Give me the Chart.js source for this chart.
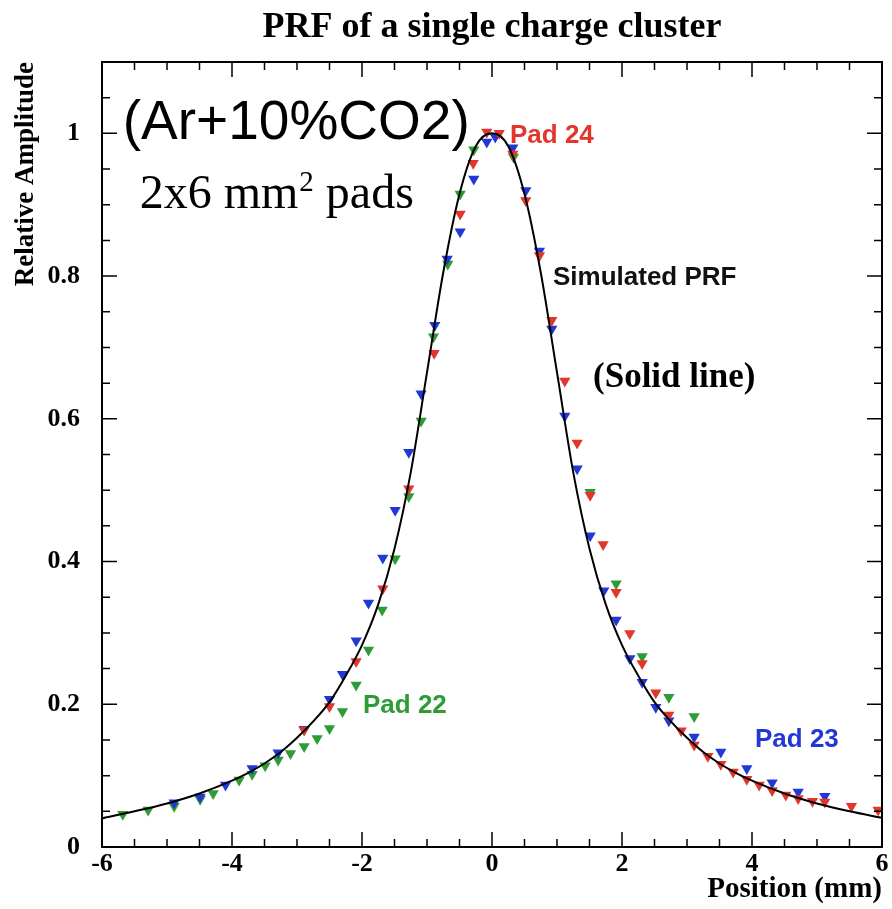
<!DOCTYPE html>
<html>
<head>
<meta charset="utf-8">
<script src="https://cdn.jsdelivr.net/npm/chart.js@4.4.1/dist/chart.umd.min.js"></script>
<style>
body { margin: 0; background: #fff; }
</style>
</head>
<body>
<canvas id="chart" width="892" height="909"></canvas>
<script>
// simulated PRF (solid line)
const curveX = [-6, -5.5, -5, -4.5, -4, -3.75, -3.5, -3.25, -3, -2.75, -2.5, -2.25, -2, -1.75, -1.5, -1.25, -1, -0.75, -0.5, -0.25,
    0, 0.25, 0.5, 0.75, 1, 1.25, 1.5, 1.75, 2, 2.25, 2.5, 2.75, 3, 3.25, 3.5, 3.75, 4, 4.5, 5, 5.5, 6];
const curveY = [0.040, 0.050, 0.061, 0.075, 0.093, 0.104, 0.117, 0.133, 0.153, 0.176, 0.203, 0.240, 0.283, 0.340, 0.418, 0.525, 0.665, 0.805, 0.915, 0.982,
    1.000, 0.982, 0.915, 0.805, 0.665, 0.525, 0.418, 0.340, 0.283, 0.240, 0.203, 0.176, 0.153, 0.133, 0.117, 0.104, 0.093, 0.075, 0.061, 0.050, 0.041];

// Pad 24 (red)
const pad24X = [-2.89, -2.50, -2.09, -1.68, -1.28, -0.89, -0.49, -0.29, -0.08, 0.11, 0.32, 0.52, 0.73, 0.92, 1.12, 1.31, 1.51, 1.71, 1.91,
    2.12, 2.31, 2.52, 2.72, 2.91, 3.11, 3.32, 3.52, 3.71, 3.92, 4.11, 4.31, 4.52, 4.71, 4.93, 5.12, 5.53, 5.94];
const pad24Y = [0.164, 0.197, 0.260, 0.362, 0.502, 0.692, 0.887, 0.958, 1.002, 1.000, 0.971, 0.906, 0.829, 0.738, 0.653, 0.566, 0.493, 0.424, 0.357,
    0.299, 0.257, 0.216, 0.185, 0.163, 0.143, 0.127, 0.116, 0.105, 0.095, 0.087, 0.079, 0.073, 0.068, 0.064, 0.063, 0.057, 0.052];

// Pad 23 (blue)
const pad23X = [-4.89, -4.49, -4.10, -3.69, -3.29, -2.89, -2.50, -2.30, -2.09, -1.90, -1.68, -1.49, -1.28, -1.09, -0.88, -0.69, -0.49, -0.28, -0.08, 0.05,
    0.32, 0.52, 0.73, 0.92, 1.12, 1.31, 1.51, 1.72, 1.91, 2.12, 2.31, 2.52, 2.72, 3.11, 3.52, 3.92, 4.31, 4.71, 5.12];
const pad23Y = [0.062, 0.070, 0.087, 0.110, 0.132, 0.165, 0.207, 0.242, 0.289, 0.342, 0.405, 0.472, 0.553, 0.635, 0.731, 0.824, 0.862, 0.936, 0.988, 0.995,
    0.980, 0.920, 0.835, 0.726, 0.604, 0.530, 0.436, 0.359, 0.318, 0.264, 0.231, 0.196, 0.177, 0.154, 0.133, 0.110, 0.090, 0.077, 0.071];

// Pad 22 (green)
const pad22X = [-5.68, -5.29, -4.89, -4.49, -4.29, -3.89, -3.69, -3.49, -3.29, -3.10, -2.89, -2.69, -2.50, -2.30, -2.09, -1.90, -1.69, -1.49, -1.28,
    -1.09, -0.90, -0.68, -0.49, -0.28, 0.33, 1.51, 1.91, 2.31, 2.72, 3.11];
const pad22Y = [0.046, 0.052, 0.057, 0.067, 0.075, 0.094, 0.102, 0.114, 0.122, 0.131, 0.141, 0.152, 0.166, 0.190, 0.227, 0.276, 0.332, 0.404, 0.491,
    0.597, 0.715, 0.817, 0.915, 0.977, 0.967, 0.497, 0.369, 0.267, 0.210, 0.183];

const xMin = -6, xMax = 6, xStep = 2;
const yMin = 0, yMax = 1.1, yStep = 0.2;

const RED = "#e3352b", BLUE = "#2238d4", GREEN = "#2e9c34";

const toPts = (xs, ys) => xs.map((x, i) => ({ x: x, y: ys[i] }));

// texts inside the frame, anchored in data coordinates (left, baseline)
const notes = [
    { text: "(Ar+10%CO2)", x: -5.68, y: 0.9916, font: "55px 'Liberation Sans'", color: "#000" },
    { text: "Pad 24", x: 0.277, y: 0.986, font: "bold 26px 'Liberation Sans'", color: RED },
    { text: "Simulated PRF", x: 0.938, y: 0.787, font: "bold 26px 'Liberation Sans'", color: "#111" },
    { text: "(Solid line)", x: 1.554, y: 0.644, font: "bold 35px 'Liberation Serif'", color: "#000" },
    { text: "Pad 22", x: -1.985, y: 0.1877, font: "bold 26px 'Liberation Sans'", color: GREEN },
    { text: "Pad 23", x: 4.046, y: 0.140, font: "bold 26px 'Liberation Sans'", color: BLUE }
];

const framePlugin = {
    id: "frame",
    afterDatasetsDraw(chart) {
        const { ctx, chartArea: a, scales: { x, y } } = chart;
        ctx.save();
        ctx.strokeStyle = "#000";
        ctx.lineWidth = 1.5;
        ctx.beginPath();
        // x ticks every 0.5, long every 2
        for (let i = 0; i <= (xMax - xMin) / 0.5; i++) {
            const px = x.getPixelForValue(xMin + i * 0.5);
            const len = i % 4 === 0 ? 15 : 8;
            ctx.moveTo(px, a.bottom); ctx.lineTo(px, a.bottom - len);
            ctx.moveTo(px, a.top); ctx.lineTo(px, a.top + len);
        }
        // y ticks every 0.05, long every 0.2
        for (let i = 0; i <= Math.round((yMax - yMin) / 0.05); i++) {
            const py = y.getPixelForValue(yMin + i * 0.05);
            const len = i % 4 === 0 ? 15 : 8;
            ctx.moveTo(a.left, py); ctx.lineTo(a.left + len, py);
            ctx.moveTo(a.right, py); ctx.lineTo(a.right - len, py);
        }
        ctx.stroke();
        ctx.lineWidth = 2;
        ctx.strokeRect(a.left, a.top, a.right - a.left, a.bottom - a.top);

        // title
        ctx.fillStyle = "#000";
        ctx.textAlign = "center";
        ctx.textBaseline = "alphabetic";
        ctx.font = "bold 36px 'Liberation Serif'";
        ctx.fillText("PRF of a single charge cluster", (a.left + a.right) / 2, 37);

        ctx.textAlign = "left";
        notes.forEach(n => {
            ctx.font = n.font;
            ctx.fillStyle = n.color;
            ctx.fillText(n.text, x.getPixelForValue(n.x), y.getPixelForValue(n.y));
        });

        // 2x6 mm^2 pads
        let px = x.getPixelForValue(-5.42);
        const py = y.getPixelForValue(0.896);
        ctx.fillStyle = "#000";
        ctx.font = "48px 'Liberation Serif'";
        ctx.fillText("2x6 mm", px, py);
        px += ctx.measureText("2x6 mm").width + 1;
        ctx.font = "29px 'Liberation Serif'";
        ctx.fillText("2", px, py - 17);
        px += ctx.measureText("2").width;
        ctx.font = "48px 'Liberation Serif'";
        ctx.fillText(" pads", px, py);
        ctx.restore();
    }
};

const tickFont = { family: "Liberation Serif", weight: "bold", size: 26 };
const marker = { pointStyle: "triangle", rotation: 180, pointRadius: 6.5, borderWidth: 0, showLine: false };

const ctx = document.getElementById("chart").getContext("2d");
const chart = new Chart(ctx, {
    type: "scatter",
    data: {
        datasets: [
            {
                label: "Simulated PRF",
                data: toPts(curveX, curveY),
                showLine: true,
                borderColor: "#000",
                borderWidth: 2,
                pointRadius: 0,
                cubicInterpolationMode: "monotone",
                fill: false
            },
            Object.assign({ label: "Pad 24", data: toPts(pad24X, pad24Y), backgroundColor: RED, borderColor: RED }, marker),
            Object.assign({ label: "Pad 23", data: toPts(pad23X, pad23Y), backgroundColor: BLUE, borderColor: BLUE }, marker),
            Object.assign({ label: "Pad 22", data: toPts(pad22X, pad22Y), backgroundColor: GREEN, borderColor: GREEN }, marker)
        ]
    },
    options: {
        responsive: false,
        animation: false,
        events: [],
        layout: { padding: { top: 62, right: 10, left: 0, bottom: 0 } },
        plugins: {
            legend: { display: false },
            tooltip: { enabled: false }
        },
        scales: {
            x: {
                type: "linear",
                min: xMin,
                max: xMax,
                afterFit: s => { s.height = 62; },
                grid: { display: false, drawTicks: false },
                border: { display: false },
                ticks: {
                    stepSize: xStep,
                    autoSkip: false,
                    maxRotation: 0,
                    padding: 2,
                    color: "#000",
                    font: tickFont
                },
                title: {
                    display: true,
                    text: "Position (mm)",
                    align: "end",
                    color: "#000",
                    padding: { top: 0, bottom: 2 },
                    font: { family: "Liberation Serif", weight: "bold", size: 29 }
                }
            },
            y: {
                type: "linear",
                min: yMin,
                max: yMax,
                afterFit: s => { s.width = 102; },
                grid: { display: false, drawTicks: false },
                border: { display: false },
                ticks: {
                    stepSize: yStep,
                    includeBounds: false,
                    padding: 22,
                    color: "#000",
                    font: tickFont,
                    callback: v => String(+v.toFixed(2))
                },
                title: {
                    display: true,
                    text: "Relative Amplitude",
                    align: "end",
                    color: "#000",
                    padding: { top: 10, bottom: 0 },
                    font: { family: "Liberation Serif", weight: "bold", size: 27 }
                }
            }
        }
    },
    plugins: [framePlugin]
});
</script>
</body>
</html>
